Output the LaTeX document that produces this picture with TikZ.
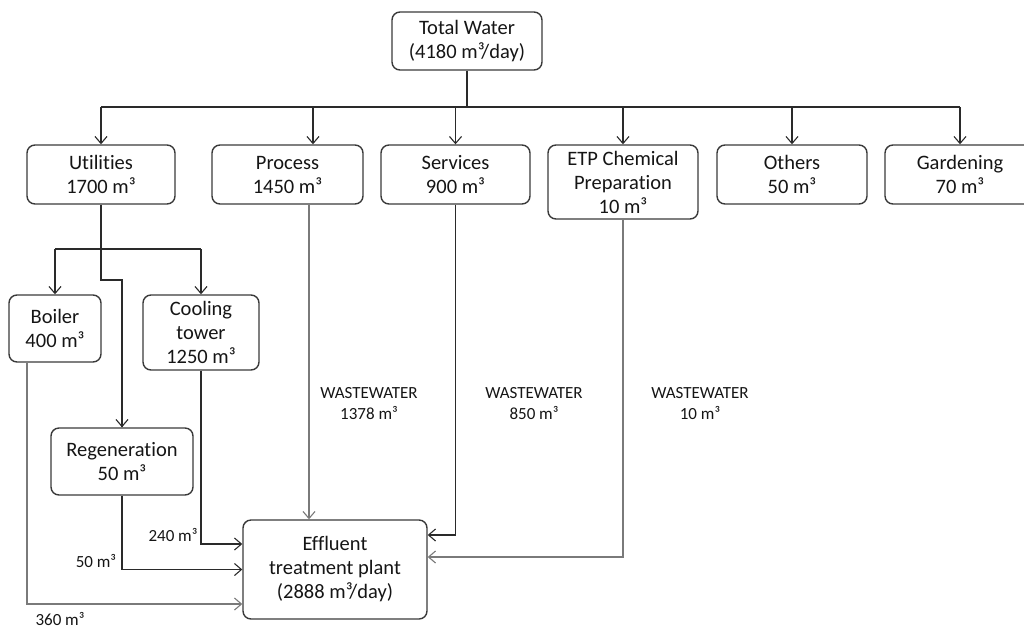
\documentclass[tikz,border=0pt]{standalone}
\usepackage{fontspec}
\setmainfont{Carlito}[Ligatures=NoCommon]
\usetikzlibrary{arrows.meta,calc}
\definecolor{boxc}{HTML}{3A3A3A}
\definecolor{txt}{HTML}{151515}
\definecolor{lnc}{HTML}{2A2A2A}
\definecolor{glc}{HTML}{7A7A7A}
\begin{document}
\begin{tikzpicture}[x=1pt,y=-1pt,
  box/.style={draw=boxc, line width=1.4pt, rounded corners=8pt, align=center,
    inner sep=0pt, font=\fontsize{20.5}{24}\selectfont, text=txt},
  lbl/.style={align=center, inner sep=0pt, font=\fontsize{17}{21}\selectfont, text=txt},
  ln/.style={line width=1.3pt, draw=lnc},
  gln/.style={line width=1.4pt, draw=glc},
  arr/.style={-{Straight Barb[length=7pt,width=12pt,line width=1.1pt]}},
]
\useasboundingbox (0,0) rectangle (1024,630);
\clip (0,0) rectangle (1024,630);

% top
\node[box, minimum width=150pt, minimum height=58pt] (total) at (467,41) {Total Water\\(4180 m³/day)};

% second row
\node[box, minimum width=148pt, minimum height=59pt] (util) at (101,174.5) {Utilities\\1700 m³};
\node[box, minimum width=151pt, minimum height=59pt] (proc) at (287.5,174.5) {Process\\1450 m³};
\node[box, minimum width=149pt, minimum height=59pt] (serv) at (455.5,174.5) {Services\\900 m³};
\node[box, minimum width=150pt, minimum height=74pt] (etpc) at (623,182) {ETP Chemical\\Preparation\\10 m³};
\node[box, minimum width=150pt, minimum height=59pt] (oth) at (792,174.5) {Others\\50 m³};
\node[box, minimum width=150pt, minimum height=59pt] (gard) at (960,174.5) {Gardening\\70 m³};

% utilities sub-boxes
\node[box, minimum width=92pt, minimum height=67pt] (boil) at (55,328.5) {Boiler\\400 m³};
\node[box, minimum width=116pt, minimum height=75pt] (cool) at (201,332.5) {Cooling\\tower\\1250 m³};
\node[box, minimum width=142pt, minimum height=67pt] (regen) at (122,461.5) {Regeneration\\50 m³};

% effluent
\node[box, minimum width=184pt, minimum height=99pt] (eff) at (335,569.5) {Effluent\\treatment plant\\(2888 m³/day)};

% bus
\coordinate (bus) at (467,107);
\draw[ln] (total.south) -- (bus);
\draw[ln] (bus -| util.north) -- (bus -| gard.north);
\draw[ln,arr] (bus -| util.north) -- (util.north);
\draw[ln,arr] ([xshift=25.5pt]bus -| proc.north) -- ([xshift=25.5pt]proc.north);
\draw[ln,arr] (bus -| serv.north) -- (serv.north);
\draw[ln,arr] (bus -| etpc.north) -- (etpc.north);
\draw[ln,arr] (bus -| oth.north) -- (oth.north);
\draw[ln,arr] (bus -| gard.north) -- (gard.north);

% utilities branching
\coordinate (br) at (101,249);
\coordinate (bend) at (101,280);
\draw[ln] (util.south) -- (bend) -| (regen.north);
\draw[ln,arr] (bend -| regen.north) -- (regen.north);
\draw[ln] (br -| boil.north) -- (br -| cool.north);
\draw[ln,arr] (br -| boil.north) -- (boil.north);
\draw[ln,arr] (br -| cool.north) -- (cool.north);

% to effluent
\draw[ln,arr] (cool.south) |- ([yshift=25.5pt]eff.west);
\draw[ln,arr] (regen.south) |- (eff.west);
\draw[gln,arr] ([xshift=-28pt]boil.south) |- ([yshift=-34.5pt]eff.west);
\draw[gln,arr] ([xshift=21.5pt]proc.south) -- ([xshift=21.5pt]proc.south |- eff.north);
\draw[ln,arr] (serv.south) |- ([yshift=34.5pt]eff.east);
\draw[gln,arr] (etpc.south) |- ([yshift=12.5pt]eff.east);

% labels
\node[lbl] (w1) at (369,404) {WASTEWATER\\1378 m³};
\node[lbl] (w2) at (534,404) {WASTEWATER\\850 m³};
\node[lbl] (w3) at (700,404) {WASTEWATER\\10 m³};
\node[lbl] (l240) at (173,535) {240 m³};
\node[lbl] (l50) at (96,561) {50 m³};
\node[lbl] (l360) at (60,619) {360 m³};
\end{tikzpicture}
\end{document}
